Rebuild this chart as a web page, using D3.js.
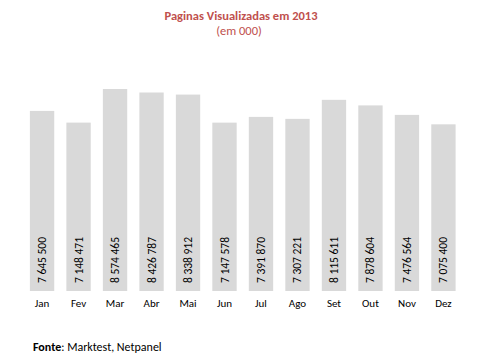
<!DOCTYPE html>
<html>
<head>
<meta charset="utf-8">
<script src="https://cdn.jsdelivr.net/npm/d3@7"></script>
<style>
  body { margin: 0; background: #fff; }
  text { font-family: Carlito, "Open Sans", "Liberation Sans", sans-serif; }
</style>
</head>
<body>
<div class="chart"></div>
<script>
var months = ["Jan", "Fev", "Mar", "Abr", "Mai", "Jun", "Jul", "Ago", "Set", "Out", "Nov", "Dez"];
var views = [7645500, 7148471, 8574465, 8426787, 8338912, 7147578, 7391870, 7307221, 8115611, 7878604, 7476564, 7075400];

var width = 482, height = 364;

var svg = d3.select(".chart").append("svg")
            .attr("width", width)
            .attr("height", height);

var x = d3.scaleBand()
          .domain(months)
          .range([17.75, 467.75])
          .padding(0.333);

var y = d3.scaleLinear()
          .domain([0, 9000000])
          .range([291, 79]);

var fmt = function(v) { return d3.format(",")(v).replace(/,/g, " "); };

svg.selectAll(".bar")
   .data(views)
   .enter().append("rect")
   .attr("class", "bar")
   .attr("x", function(d, i) { return x(months[i]); })
   .attr("y", function(d) { return y(d); })
   .attr("width", x.bandwidth())
   .attr("height", function(d) { return y(0) - y(d); })
   .style("fill", "#d9d9d9");

// values written inside the bars, reading upwards
svg.selectAll(".val")
   .data(views)
   .enter().append("text")
   .attr("class", "val")
   .attr("transform", function(d, i) {
      return "translate(" + (x(months[i]) + x.bandwidth() / 2 + 4) + ",283) rotate(-90)";
   })
   .style("font-size", "11.5px")
   .style("fill", "#000")
   .text(function(d) { return fmt(d); });

var xAxis = d3.axisBottom(x).tickSize(0).tickPadding(8);

var gx = svg.append("g")
   .attr("transform", "translate(0,291)")
   .call(xAxis);
gx.select(".domain").remove();
gx.selectAll("text")
  .style("font-size", "11px")
  .style("font-family", "Carlito, 'Open Sans', 'Liberation Sans', sans-serif")
  .style("fill", "#000");

svg.append("text")
   .attr("x", 241)
   .attr("y", 20)
   .attr("text-anchor", "middle")
   .style("font-size", "12.5px")
   .style("font-weight", "bold")
   .style("fill", "#c0504d")
   .text("Paginas Visualizadas em 2013");

svg.append("text")
   .attr("x", 239)
   .attr("y", 35)
   .attr("text-anchor", "middle")
   .style("font-size", "12.5px")
   .style("fill", "#c0504d")
   .text("(em 000)");

var src = svg.append("text")
   .attr("x", 33)
   .attr("y", 351)
   .style("font-size", "12px")
   .style("fill", "#000");
src.append("tspan").style("font-weight", "bold").text("Fonte");
src.append("tspan").text(": Marktest, Netpanel");
</script>
</body>
</html>
